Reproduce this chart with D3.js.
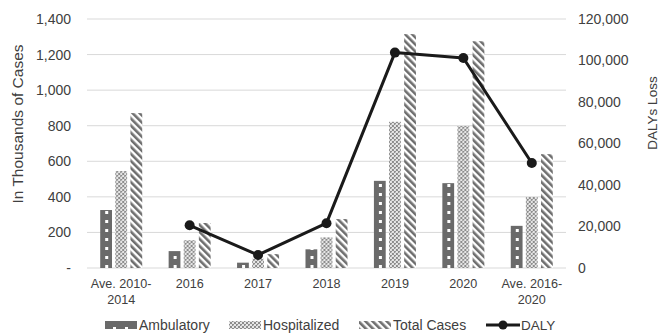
<!DOCTYPE html>
<html>
<head>
<meta charset="utf-8">
<script src="https://cdn.jsdelivr.net/npm/d3@7"></script>
<style>
  body { margin: 0; background: #fff; }
  text { font-family: "Liberation Sans", Arial, sans-serif; fill: #404040; }
</style>
</head>
<body>
<div id="chart"></div>
<script>
// chart data
var categories = ["Ave. 2010-2014", "2016", "2017", "2018", "2019", "2020", "Ave. 2016-2020"];
var categoryLines = [["Ave. 2010-", "2014"], ["2016"], ["2017"], ["2018"], ["2019"], ["2020"], ["Ave. 2016-", "2020"]];
var ambulatory = [326, 95, 30, 105, 490, 477, 237];
var hospitalized = [545, 157, 52, 172, 822, 798, 399];
var totalCases = [871, 253, 78, 275, 1315, 1275, 640];
var daly = [null, 20600, 6300, 21600, 103800, 101200, 50600];
var leftTicks = [0, 200, 400, 600, 800, 1000, 1200, 1400];
var rightTicks = [0, 20000, 40000, 60000, 80000, 100000, 120000];
var seriesNames = ["Ambulatory", "Hospitalized", "Total Cases"];

var svgWidth = 660;
var svgHeight = 335;
var margin = { top: 19, right: 94, bottom: 67, left: 87 };
var width = svgWidth - margin.left - margin.right;
var height = svgHeight - margin.top - margin.bottom;

var svg = d3.select("#chart")
  .append("svg")
  .attr("width", svgWidth)
  .attr("height", svgHeight);

// fill patterns
var defs = svg.append("defs");

var pAmb = defs.append("pattern")
  .attr("id", "pat-amb")
  .attr("patternUnits", "userSpaceOnUse")
  .attr("width", 12).attr("height", 9);
pAmb.append("rect").attr("width", 12).attr("height", 9).attr("fill", "#6a6a6a");
pAmb.append("rect").attr("x", 5).attr("y", 3).attr("width", 3).attr("height", 3).attr("fill", "#ffffff");

var pHosp = defs.append("pattern")
  .attr("id", "pat-hosp")
  .attr("patternUnits", "userSpaceOnUse")
  .attr("width", 4).attr("height", 4);
pHosp.append("rect").attr("width", 4).attr("height", 4).attr("fill", "#e6e6e6");
pHosp.append("rect").attr("x", 0).attr("y", 0).attr("width", 2).attr("height", 2).attr("fill", "#8c8c8c");
pHosp.append("rect").attr("x", 2).attr("y", 2).attr("width", 2).attr("height", 2).attr("fill", "#8c8c8c");
pHosp.append("rect").attr("x", 1).attr("y", 1).attr("width", 1).attr("height", 1).attr("fill", "#bdbdbd");

var pTot = defs.append("pattern")
  .attr("id", "pat-tot")
  .attr("patternUnits", "userSpaceOnUse")
  .attr("width", 5).attr("height", 5)
  .attr("patternTransform", "rotate(-45)");
pTot.append("rect").attr("width", 5).attr("height", 5).attr("fill", "#ffffff");
pTot.append("rect").attr("width", 2.6).attr("height", 5).attr("fill", "#6e6e6e");

var fills = { "Ambulatory": "url(#pat-amb)", "Hospitalized": "url(#pat-hosp)", "Total Cases": "url(#pat-tot)" };

var chartGroup = svg.append("g")
  .attr("transform", `translate(${margin.left}, ${margin.top})`);

// scales
var x0 = d3.scaleBand()
  .domain(categories)
  .range([0, width])
  .paddingInner(0.386)
  .paddingOuter(0.193);

var x1 = d3.scaleBand()
  .domain(seriesNames)
  .range([0, x0.bandwidth()])
  .paddingInner(0.22);

var yLeft = d3.scaleLinear().domain([0, 1400]).range([height, 0]);
var yRight = d3.scaleLinear().domain([0, 120000]).range([height, 0]);

// gridlines
chartGroup.selectAll(".grid")
  .data(leftTicks)
  .enter()
  .append("line")
  .attr("x1", 0)
  .attr("x2", width)
  .attr("y1", d => yLeft(d))
  .attr("y2", d => yLeft(d))
  .attr("stroke", "#d9d9d9")
  .attr("stroke-width", 1);

// left axis
var leftAxis = d3.axisLeft(yLeft)
  .tickValues(leftTicks)
  .tickSize(0)
  .tickPadding(16)
  .tickFormat(d => d === 0 ? "-" : d3.format(",")(d));
var gLeft = chartGroup.append("g").call(leftAxis);
gLeft.select(".domain").remove();
gLeft.selectAll("text")
  .attr("font-size", "14px")
  .attr("fill", "#404040");

// right axis
var rightAxis = d3.axisRight(yRight)
  .tickValues(rightTicks)
  .tickSize(0)
  .tickPadding(12)
  .tickFormat(d3.format(","));
var gRight = chartGroup.append("g")
  .attr("transform", `translate(${width}, 0)`)
  .call(rightAxis);
gRight.select(".domain").remove();
gRight.selectAll("text")
  .attr("font-size", "14px")
  .attr("fill", "#404040");

// category labels
var catLabels = chartGroup.selectAll(".cat")
  .data(categories)
  .enter()
  .append("text")
  .attr("text-anchor", "middle")
  .attr("font-size", "12.6px")
  .attr("transform", d => `translate(${x0(d) + x0.bandwidth() / 2}, ${height + 20})`);
catLabels.each(function(d, i) {
  var t = d3.select(this);
  categoryLines[i].forEach(function(line, j) {
    t.append("tspan").attr("x", 0).attr("y", j * 16).text(line);
  });
});

// bars
var seriesData = [ambulatory, hospitalized, totalCases];
var groups = chartGroup.selectAll(".group")
  .data(categories)
  .enter()
  .append("g")
  .attr("transform", d => `translate(${x0(d)}, 0)`);

groups.selectAll("rect")
  .data((d, i) => seriesNames.map((s, k) => ({ key: s, value: seriesData[k][i] })))
  .enter()
  .append("rect")
  .attr("x", d => x1(d.key))
  .attr("y", d => yLeft(d.value))
  .attr("width", x1.bandwidth())
  .attr("height", d => height - yLeft(d.value))
  .attr("fill", d => fills[d.key]);

// DALY line
var dalyPoints = categories.map((c, i) => ({ cat: c, value: daly[i] })).filter(d => d.value !== null);
var line = d3.line()
  .x(d => x0(d.cat) + x0.bandwidth() / 2)
  .y(d => yRight(d.value));
chartGroup.append("path")
  .datum(dalyPoints)
  .attr("d", line)
  .attr("fill", "none")
  .attr("stroke", "#1a1a1a")
  .attr("stroke-width", 3)
  .attr("stroke-linejoin", "round");
chartGroup.selectAll(".dot")
  .data(dalyPoints)
  .enter()
  .append("circle")
  .attr("cx", d => x0(d.cat) + x0.bandwidth() / 2)
  .attr("cy", d => yRight(d.value))
  .attr("r", 5)
  .attr("fill", "#1a1a1a");

// axis titles
svg.append("text")
  .attr("transform", "translate(23, 124) rotate(-90)")
  .attr("text-anchor", "middle")
  .attr("font-size", "15.5px")
  .text("In Thousands of Cases");
svg.append("text")
  .attr("transform", "translate(657, 113) rotate(-90)")
  .attr("text-anchor", "middle")
  .attr("font-size", "13.5px")
  .text("DALYs Loss");

// legend
var legendY = 325;
var legendItems = [
  { name: "Ambulatory", x: 105 },
  { name: "Hospitalized", x: 229 },
  { name: "Total Cases", x: 359 }
];
legendItems.forEach(function(item) {
  svg.append("rect")
    .attr("x", item.x)
    .attr("y", legendY - 4)
    .attr("width", 32)
    .attr("height", 8)
    .attr("fill", fills[item.name]);
  svg.append("text")
    .attr("x", item.x + 34)
    .attr("y", legendY)
    .attr("dy", "0.35em")
    .attr("font-size", "14px")
    .text(item.name);
});
svg.append("line")
  .attr("x1", 486).attr("x2", 520)
  .attr("y1", legendY).attr("y2", legendY)
  .attr("stroke", "#1a1a1a").attr("stroke-width", 3);
svg.append("circle")
  .attr("cx", 503).attr("cy", legendY).attr("r", 4.5).attr("fill", "#1a1a1a");
svg.append("text")
  .attr("x", 521)
  .attr("y", legendY)
  .attr("dy", "0.35em")
  .attr("font-size", "13.5px")
  .text("DALY");
</script>
</body>
</html>
